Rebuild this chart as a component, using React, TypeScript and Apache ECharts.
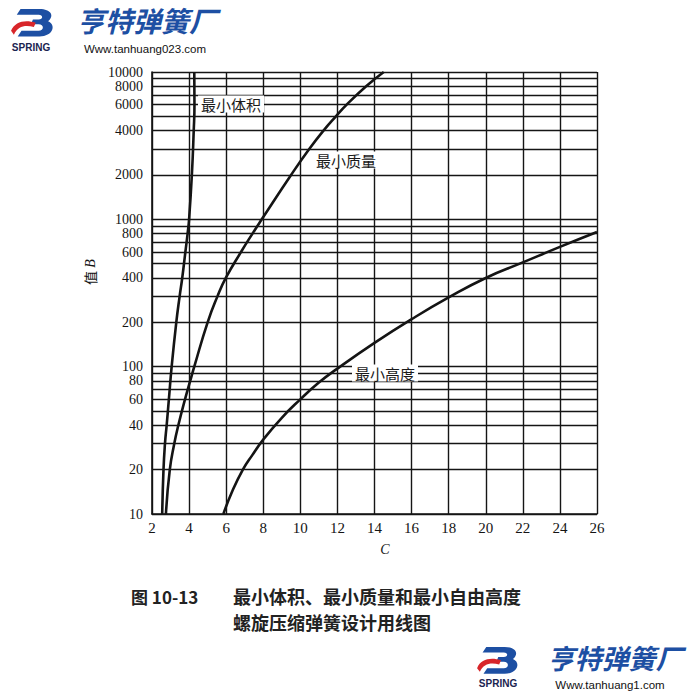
import React, { useEffect, useRef } from "react";
import * as echarts from "echarts";

// ---- Data ----
const xTickValues = [2, 4, 6, 8, 10, 12, 14, 16, 18, 20, 22, 24, 26];
const yLabelValues = [10, 20, 40, 60, 80, 100, 200, 400, 600, 800, 1000, 2000, 4000, 6000, 8000, 10000];
const yGridValues = [
  10, 20, 30, 40, 50, 60, 70, 80, 90,
  100, 200, 300, 400, 500, 600, 700, 800, 900,
  1000, 2000, 3000, 4000, 5000, 6000, 7000, 8000, 9000, 10000,
];

// 最小体积
const volumeC = [2.55, 2.62, 2.7, 2.79, 2.91, 3.06, 3.31, 3.49, 3.63, 3.8, 3.92, 4.0, 4.15, 4.25, 4.29, 4.28];
const volumeB = [10, 20, 30, 40, 60, 100, 200, 300, 400, 600, 800, 1000, 2000, 4000, 6000, 10000];
// 最小质量
const massC = [2.75, 2.96, 3.2, 3.42, 3.78, 4.06, 4.28, 5.0, 5.53, 5.98, 6.8, 7.42, 7.92, 9.5, 10.48, 11.25, 11.92, 12.5, 13.55, 14.5];
const massB = [10, 20, 30, 40, 60, 80, 100, 200, 300, 400, 600, 800, 1000, 2000, 3000, 4000, 5000, 6000, 8000, 10000];
// 最小高度
const heightC = [5.85, 6.3, 6.9, 7.4, 8, 9, 10, 11, 12, 14, 16, 18, 20, 22, 24, 26];
const heightB = [10, 14, 20, 25, 32, 45, 60, 78, 97, 145, 210, 295, 400, 510, 650, 820];

const curveNames = ["最小体积", "最小质量", "最小高度"];
const captionLine1Head = "图 10-13";
const captionLine1 = "最小体积、最小质量和最小自由高度";
const captionLine2 = "螺旋压缩弹簧设计用线图";
const brandName = "亨特弹簧厂";
const brandSub = "SPRING";
const siteTop = "Www.tanhuang023.com";
const siteBottom = "Www.tanhuang1.com";

// ---- Logo shapes ----
const bluePath =
  "M9 0 H29 C41 0 45 7 38 13 C47 17 43 29 29 29 H6 L10 23 H28 C34 23 34 16 28 16 H20 L22 11 H28 C33 11 33 6 28 6 H5 Z";
const redPath = "M0 22 C4 12 15 10 26 13.5 L24 18 C15 15.5 7 17 3 26 Z";
echarts.graphic.registerShape("logoBlue", echarts.graphic.extendPath(bluePath, {}) as any);
echarts.graphic.registerShape("logoRed", echarts.graphic.extendPath(redPath, {}) as any);

const BLUE = "#1d4fa3";
const RED = "#d8262a";
const INK = "#141414";

function pairs(xs: number[], ys: number[]) {
  return xs.map((x, i) => [x, ys[i]]);
}

function logo(x: number, y: number, s: number) {
  return [
    { type: "logoBlue", x, y, scaleX: s, scaleY: s, style: { fill: BLUE }, z: 100 },
    { type: "logoRed", x: x - 1 * s, y: y + 1 * s, scaleX: s, scaleY: s, style: { fill: RED }, z: 101 },
  ];
}

function buildOption(): any {
  const curveBase = {
    type: "line",
    showSymbol: false,
    smooth: 0.5,
    silent: true,
    z: 5,
    lineStyle: { color: INK, width: 2.6 },
  };
  const labelStyle = {
    fontFamily: "Noto Sans CJK SC",
    fontSize: 15,
    fill: "#1a1a1a",
    backgroundColor: "#fff",
    padding: [1, 3],
  };
  const captionStyle = {
    fontFamily: "Noto Sans CJK SC",
    fontWeight: "bold",
    fill: "#222",
    align: "left",
    verticalAlign: "middle",
    lineHeight: 18,
  };
  return {
    animation: false,
    backgroundColor: "#fff",
    grid: { left: 152, right: 103, top: 72, bottom: 186, show: false },
    xAxis: {
      type: "value",
      min: xTickValues[0],
      max: xTickValues[xTickValues.length - 1],
      interval: 2,
      axisLine: { show: true, lineStyle: { color: INK, width: 1.6 } },
      axisTick: { show: false },
      axisLabel: {
        show: true,
        color: INK,
        fontFamily: "Liberation Serif",
        fontSize: 15,
        margin: 6,
        customValues: xTickValues,
      },
      splitLine: { show: true, lineStyle: { color: "#151515", width: 1.4 } },
    },
    yAxis: {
      type: "log",
      logBase: 10,
      min: 10,
      max: 10000,
      axisLine: { show: true, lineStyle: { color: INK, width: 1.6 } },
      axisTick: { show: false },
      axisLabel: { show: false },
      splitLine: { show: false },
    },
    series: [
      {
        type: "line",
        data: [[2, 10]],
        showSymbol: false,
        silent: true,
        lineStyle: { width: 0 },
        markLine: {
          silent: true,
          animation: false,
          symbol: ["none", "none"],
          lineStyle: { color: "#151515", width: 1.4, type: "solid" },
          emphasis: { disabled: true },
          data: yGridValues.map((v) => ({
            yAxis: v,
            label: {
              show: yLabelValues.includes(v),
              position: "start",
              formatter: String(v),
              distance: 9,
              color: INK,
              fontFamily: "Liberation Serif",
              fontSize: 14,
              lineHeight: 13,
            },
          })),
        },
      },
      { ...curveBase, name: curveNames[0], data: pairs(volumeC, volumeB) },
      { ...curveBase, name: curveNames[1], data: pairs(massC, massB) },
      { ...curveBase, name: curveNames[2], data: pairs(heightC, heightB) },
    ],
    graphic: [
      // curve annotations
      { type: "text", x: 231, y: 104, z: 100, style: { ...labelStyle, text: curveNames[0], align: "center", verticalAlign: "middle" } },
      { type: "text", x: 346, y: 160, z: 100, style: { ...labelStyle, text: curveNames[1], align: "center", verticalAlign: "middle" } },
      { type: "text", x: 385, y: 373, z: 100, style: { ...labelStyle, text: curveNames[2], align: "center", verticalAlign: "middle" } },
      // axis names
      {
        type: "text",
        x: 90,
        y: 272,
        rotation: Math.PI / 2,
        z: 100,
        style: {
          text: "{a|值} {b|B}",
          align: "center",
          verticalAlign: "middle",
          rich: {
            a: { fontFamily: "Noto Sans CJK SC", fontSize: 14, fill: INK },
            b: { fontFamily: "Liberation Serif", fontStyle: "italic", fontSize: 14, fill: INK },
          },
        },
      },
      {
        type: "text",
        x: 385,
        y: 549,
        z: 100,
        style: { text: "C", fontFamily: "Liberation Serif", fontStyle: "italic", fontSize: 14, fill: INK, align: "center", verticalAlign: "middle" },
      },
      // caption
      { type: "text", x: 131, y: 596, z: 100, style: { ...captionStyle, text: captionLine1Head, fontSize: 17 } },
      { type: "text", x: 233, y: 596, z: 100, style: { ...captionStyle, text: captionLine1, fontSize: 18 } },
      { type: "text", x: 233, y: 622, z: 100, style: { ...captionStyle, text: captionLine2, fontSize: 18 } },
      // top-left brand
      ...logo(12, 9, 0.95),
      { type: "text", x: 31, y: 47, z: 100, style: { text: brandSub, fontFamily: "Liberation Sans", fontWeight: "bold", fontSize: 10, fill: "#1b2450", align: "center", verticalAlign: "middle" } },
      { type: "text", x: 147, y: 20, z: 100, style: { text: brandName, fontFamily: "Noto Sans CJK SC", fontWeight: "bold", fontStyle: "italic", fontSize: 28, fill: BLUE, align: "center", verticalAlign: "middle" } },
      { type: "text", x: 145, y: 49, z: 100, style: { text: siteTop, fontFamily: "Liberation Sans", fontSize: 11.5, fill: "#111", align: "center", verticalAlign: "middle" } },
      // bottom-right brand
      ...logo(478, 647, 0.92),
      { type: "text", x: 498, y: 683, z: 100, style: { text: brandSub, fontFamily: "Liberation Sans", fontWeight: "bold", fontSize: 10, fill: "#1b2450", align: "center", verticalAlign: "middle" } },
      { type: "text", x: 615, y: 657, z: 100, style: { text: brandName, fontFamily: "Noto Sans CJK SC", fontWeight: "bold", fontStyle: "italic", fontSize: 27, fill: BLUE, align: "center", verticalAlign: "middle" } },
      { type: "text", x: 610, y: 685, z: 100, style: { text: siteBottom, fontFamily: "Liberation Sans", fontSize: 11.5, fill: "#111", align: "center", verticalAlign: "middle" } },
    ],
  };
}

export default function App() {
  const ref = useRef<HTMLDivElement>(null);
  useEffect(() => {
    if (!ref.current) return;
    const chart = echarts.init(ref.current, undefined, { renderer: "svg" });
    chart.setOption(buildOption());
    return () => chart.dispose();
  }, []);
  return (
    <div
      ref={ref}
      style={{ position: "fixed", left: 0, top: 0, width: 700, height: 700, background: "#fff" }}
    />
  );
}
